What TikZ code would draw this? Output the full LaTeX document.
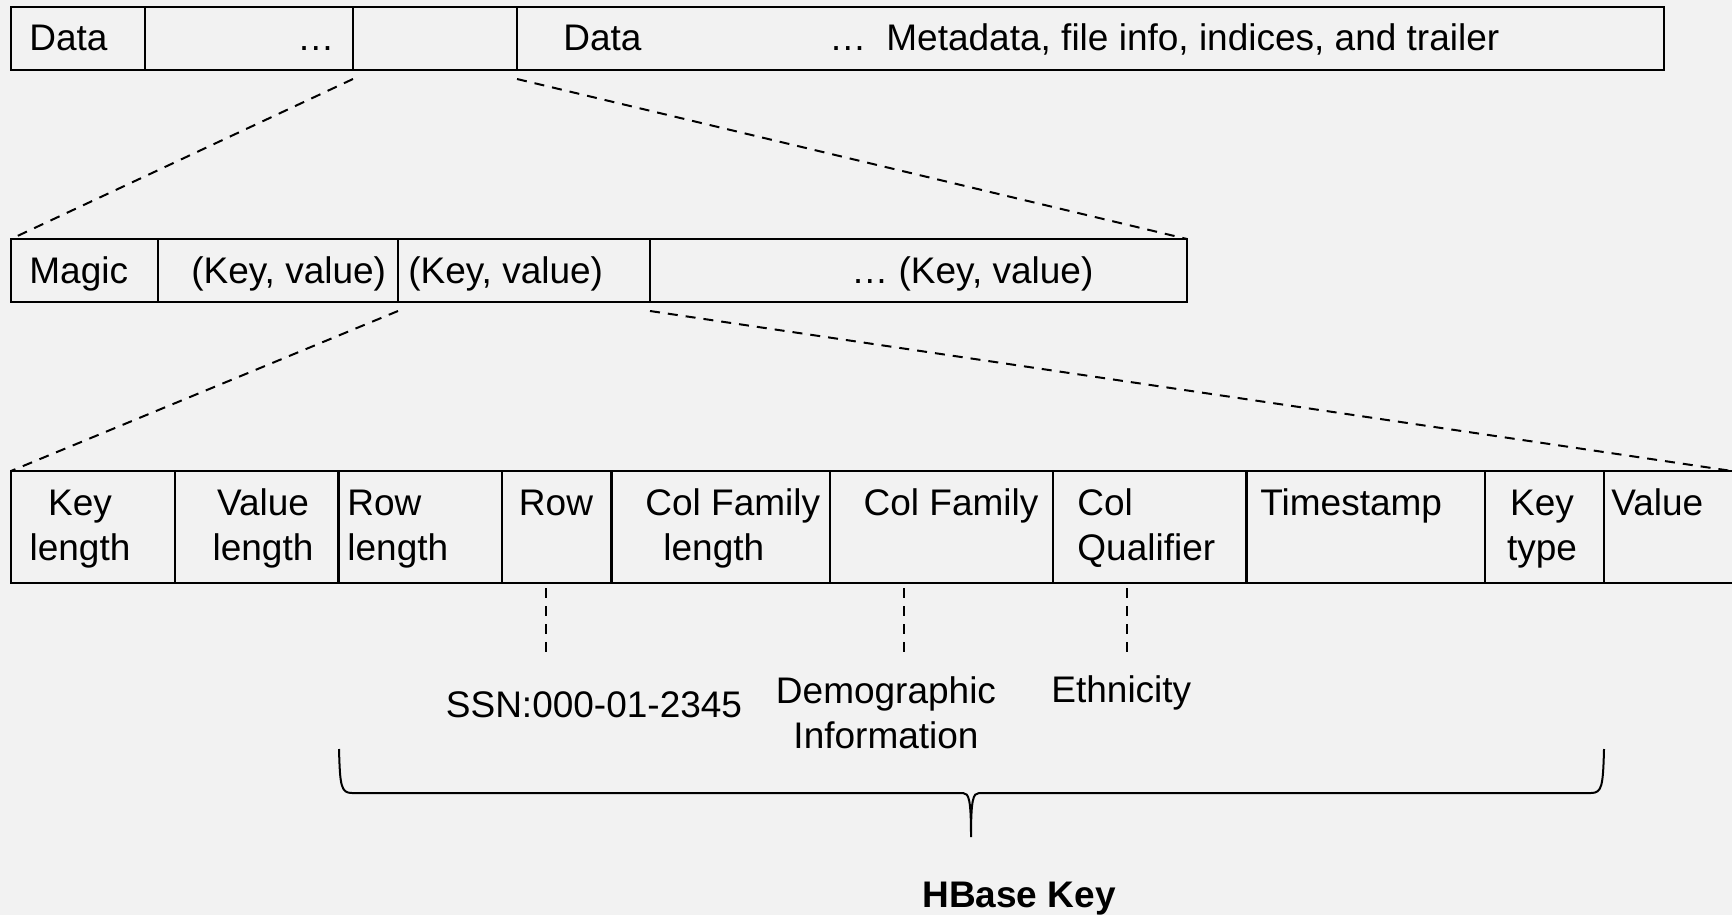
\documentclass[tikz,border=0pt]{standalone}
\usepackage{fontspec}
\setmainfont{Liberation Sans}
\usepackage{xcolor}
\usepackage{tikz}
\usetikzlibrary{positioning}

\definecolor{paper}{HTML}{F2F2F2}

\tikzset{
  cell/.style={draw, line width=1.1pt, rectangle, inner sep=0pt, outer sep=0pt},
  thin bar/.style={cell, minimum height=31.5pt},
  tall bar/.style={cell, minimum height=56pt},
  txt/.style={inner sep=0pt, font=\fontsize{18.5}{22.5}\selectfont},
  zoomline/.style={dash pattern=on 5pt off 4pt, line width=1pt},
  tickline/.style={dash pattern=on 5pt off 4pt, line width=1pt}
}

\begin{document}
\begin{tikzpicture}[x=0.5pt, y=-0.5pt]
\useasboundingbox (0,0) rectangle (1732,915);
\fill [paper] (0,0) rectangle (1732,915);

\node [thin bar, minimum width=67pt, anchor=north west] (hf-data) at (11,7) {};
\node [thin bar, minimum width=104pt, right=0pt of hf-data] (hf-dots) {};
\node [thin bar, minimum width=82pt, right=0pt of hf-dots] (hf-block) {};
\node [thin bar, minimum width=573.5pt, right=0pt of hf-block] (hf-rest) {};

\node [txt, anchor=base west] (t-data) at (29,51) {Data};
\node [txt, anchor=base west] (t-dots) at (297,51) {…};
\node [txt, anchor=base west] (t-data2) at (563,51) {Data};
\node [txt, anchor=base west] (t-meta) at (829,51) {…\hspace{10pt}Metadata, file info, indices, and trailer};

\node [thin bar, minimum width=73.5pt, anchor=north west] (blk-magic) at (11,239) {};
\node [thin bar, minimum width=120pt, right=0pt of blk-magic] (blk-kv1) {};
\node [thin bar, minimum width=126pt, right=0pt of blk-kv1] (blk-kv2) {};
\node [thin bar, minimum width=268.5pt, right=0pt of blk-kv2] (blk-rest) {};

\node [txt, anchor=base west] (t-magic) at (29,283) {Magic};
\node [txt, anchor=base west] (t-kv1) at (191,283) {(Key, value)};
\node [txt, anchor=base west] (t-kv2) at (408,283) {(Key, value)};
\node [txt, anchor=base west] (t-kvn) at (851,283) {… (Key, value)};

\node [tall bar, minimum width=82pt, anchor=north west] (kv-keylen) at (11,471) {};
\node [tall bar, minimum width=81.75pt, right=0pt of kv-keylen] (kv-vallen) {};
\node [tall bar, minimum width=81.75pt, right=0pt of kv-vallen] (kv-rowlen) {};
\node [tall bar, minimum width=54.75pt, right=0pt of kv-rowlen] (kv-row) {};
\node [tall bar, minimum width=109.25pt, right=0pt of kv-row] (kv-cflen) {};
\node [tall bar, minimum width=111.5pt, right=0pt of kv-cflen] (kv-cf) {};
\node [tall bar, minimum width=96.75pt, right=0pt of kv-cf] (kv-cq) {};
\node [tall bar, minimum width=119.25pt, right=0pt of kv-cq] (kv-ts) {};
\node [tall bar, minimum width=59.3pt, right=0pt of kv-ts] (kv-type) {};
\node [tall bar, minimum width=80pt, right=0pt of kv-type] (kv-value) {};

\node [txt, anchor=base, align=center] (t-keylen) at (80,560) {Key\\length};
\node [txt, anchor=base, align=center] (t-vallen) at (263,560) {Value\\length};
\node [txt, anchor=base west, align=left] (t-rowlen) at (347,560) {Row\\length};
\node [txt, anchor=base] (t-row) at (556,515) {Row};
\node [txt, anchor=base west, align=left] (t-cflen) at (645,560) {Col Family\\\hspace{9pt}length};
\node [txt, anchor=base] (t-cf) at (951,515) {Col Family};
\node [txt, anchor=base west, align=left] (t-cq) at (1077,560) {Col\\Qualifier};
\node [txt, anchor=base west] (t-ts) at (1260,515) {Timestamp};
\node [txt, anchor=base, align=center] (t-type) at (1542,560) {Key\\type};
\node [txt, anchor=base west] (t-value) at (1611,515) {Value};

\coordinate (cut) at (1732,471);
\draw [zoomline] ([yshift=-4.5pt]hf-block.south west) -- (blk-magic.north west);
\draw [zoomline] ([yshift=-4.5pt]hf-block.south east) -- (blk-rest.north east);
\draw [zoomline] ([yshift=-4.5pt]blk-kv2.south west) -- (kv-keylen.north west);
\draw [zoomline] ([yshift=-4.5pt]blk-kv2.south east) -- (cut);

\node [txt, anchor=base] (ssn) at (594,717) {SSN:000-01-2345};
\node [txt, anchor=base, align=center] (demo) at (886,748) {Demographic\\Information};
\node [txt, anchor=base west] (eth) at (1051,702) {Ethnicity};

\coordinate (ssn-a) at (546,588);
\coordinate (ssn-b) at (546,653);
\coordinate (demo-a) at (904,588);
\coordinate (demo-b) at (904,653);
\coordinate (eth-a) at (1127,588);
\coordinate (eth-b) at (1127,653);
\draw [tickline] (ssn-a) -- (ssn-b);
\draw [tickline] (demo-a) -- (demo-b);
\draw [tickline] (eth-a) -- (eth-b);

\draw [line width=1pt] (339,749) .. controls (340,786) and (341,793) .. (352,793) -- (963,793)
  .. controls (969,793) and (971,800) .. (971,837)
  .. controls (971,800) and (973,793) .. (979,793) -- (1591,793)
  .. controls (1602,793) and (1603,786) .. (1604,749);

\node [txt, anchor=base, font=\fontsize{18.5}{22.5}\selectfont\bfseries] (hbase) at (1019,907) {HBase Key};
\end{tikzpicture}
\end{document}
